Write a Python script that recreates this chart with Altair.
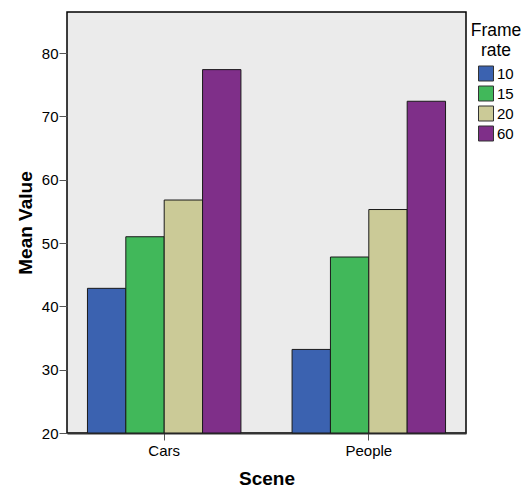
import altair as alt
import pandas as pd

scenes = ["Cars", "People"]
frame_rates = ["10", "15", "20", "60"]
cars_values = [42.85, 51.0, 56.8, 77.4]
people_values = [33.2, 47.8, 55.3, 72.4]
colors = ["#3b62b0", "#41b85a", "#cbca97", "#7f2f89"]

rows = []
for s, vals in zip(scenes, [cars_values, people_values]):
    for fr, v in zip(frame_rates, vals):
        rows.append({"Scene": s, "Frame rate": fr, "Mean": v})
df = pd.DataFrame(rows)

FONT = "Liberation Sans"

chart = alt.Chart(df).mark_bar(stroke="#1a1a1a", strokeWidth=1, opacity=1).encode(
    x=alt.X("Scene:N", sort=scenes,
            scale=alt.Scale(paddingInner=0.25, paddingOuter=0.1),
            axis=alt.Axis(title="Scene", labelAngle=0, labelFontSize=15, labelColor="#000",
                          titleFontSize=19, titleFontWeight="bold", titleColor="#000",
                          titlePadding=11, tickColor="#555", tickSize=7,
                          domainColor="#333", domainWidth=2, labelPadding=3,
                          labelFont=FONT, titleFont=FONT)),
    xOffset=alt.XOffset("Frame rate:N", sort=frame_rates, scale=alt.Scale(paddingInner=0, paddingOuter=0)),
    y=alt.Y("Mean:Q",
            scale=alt.Scale(domain=[20, 86.5], zero=False, nice=False),
            axis=alt.Axis(title="Mean Value", values=[20, 30, 40, 50, 60, 70, 80],
                          grid=False, labelFontSize=15, labelColor="#000",
                          titleFontSize=19, titleFontWeight="bold", titleColor="#000",
                          titlePadding=6, tickColor="#555", tickSize=8, labelPadding=1,
                          domain=False, labelFont=FONT, titleFont=FONT)),
    y2=alt.datum(20),
    color=alt.Color("Frame rate:N", sort=frame_rates,
                    scale=alt.Scale(domain=frame_rates, range=colors),
                    legend=alt.Legend(title=["Frame", "rate"], orient="none",
                                      legendX=404, legendY=10,
                                      titleFontSize=17.5, titleFontWeight="normal",
                                      titleColor="#000", titleAlign="center", titleAnchor="middle",
                                      titleLineHeight=20,
                                      labelFontSize=15, labelColor="#000",
                                      symbolType="square", symbolSize=225,
                                      symbolStrokeColor="#333", symbolStrokeWidth=1,
                                      symbolOpacity=1, rowPadding=0, titlePadding=6,
                                      labelFont=FONT, titleFont=FONT, labelOffset=3)),
).properties(
    width=399, height=421,
    autosize=alt.AutoSizeParams(type="none"),
    padding={"left": 59, "top": 4, "right": 56, "bottom": 58},
).configure_view(
    fill="#ebebeb", stroke="#000", strokeWidth=1.5
)

chart.save("out.html", embed_options={"renderer": "svg", "actions": False})
